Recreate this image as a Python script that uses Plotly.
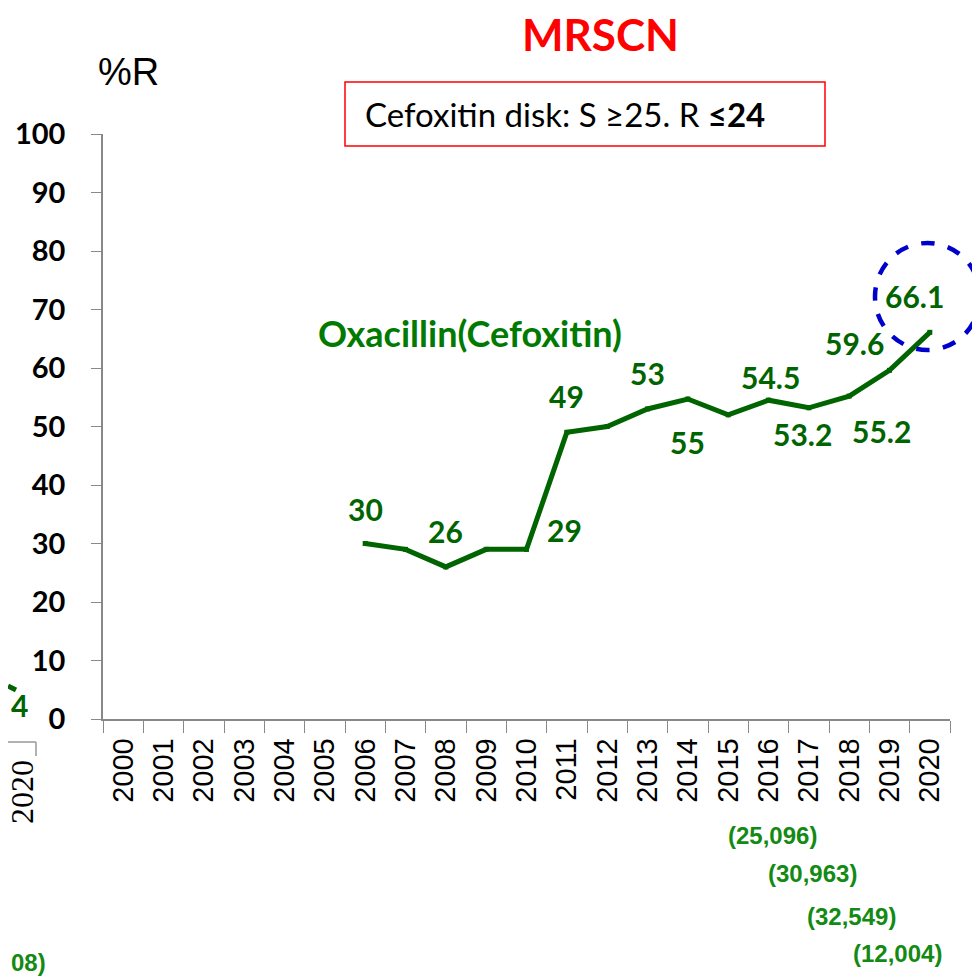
import plotly.graph_objects as go

# Data
years = [str(y) for y in range(2000, 2021)]
oxa_years = [str(y) for y in range(2006, 2021)]
oxa_values = [30, 29, 26, 29, 29, 49, 50, 53, 54.7, 52, 54.5, 53.2, 55.2, 59.6, 66.1]

# labelled points: (year, text, xshift, yshift)
point_labels = [
    ("2006", "30", 0, 35),
    ("2008", "26", 0, 36),
    ("2010", "29", 38, 19),
    ("2011", "49", 0, 36),
    ("2013", "53", 0, 36),
    ("2014", "55", 0, -43),
    ("2016", "54.5", 2, 23),
    ("2017", "53.2", -6, -26),
    ("2018", "55.2", 32, -35),
    ("2019", "59.6", -35, 27),
    ("2020", "66.1", -15, 36),
]
count_labels = ["(25,096)", "(30,963)", "(32,549)", "(12,004)"]

GREEN = "#006400"
LABEL_FONT = "Lato, Open Sans, sans-serif"
NARROW = "Liberation Sans Narrow, Arial Narrow, Liberation Sans, sans-serif"

# the html page adds an 8px body margin, so the plot sits at 103..950 x 134..719 px
PL, PT, PW, PH = 103, 134, 847, 585


def px(x):
    return (x - PL) / PW


def py(y):
    return (PT + PH - y) / PH


fig = go.Figure()

fig.add_trace(go.Scatter(
    x=oxa_years, y=oxa_values, mode="lines+markers",
    line=dict(color=GREEN, width=5),
    marker=dict(color=GREEN, size=5, symbol="square"),
    showlegend=False, hoverinfo="skip",
))

annotations = []
for yr, txt, dx, dy in point_labels:
    val = oxa_values[oxa_years.index(yr)]
    annotations.append(dict(
        x=years.index(yr), y=val, xref="x", yref="y", text=f"<b>{txt}</b>",
        showarrow=False, xshift=dx, yshift=dy, xanchor="center", yanchor="middle",
        font=dict(family=LABEL_FONT, size=30, color=GREEN),
    ))

# sample-size labels below the axis
count_pos = [(772, 835), (812, 873), (851, 916), (897, 953)]
for txt, (cx, cy) in zip(count_labels, count_pos):
    annotations.append(dict(
        x=px(cx), y=py(cy), xref="paper", yref="paper", xanchor="center", yanchor="middle",
        text=f"<b>{txt}</b>", showarrow=False,
        font=dict(family=NARROW, size=24, color="#138a13"),
    ))

annotations += [
    dict(x=px(600), y=py(34), text="<b>MRSCN</b>",
         font=dict(family=LABEL_FONT, size=44, color="#ff0000")),
    dict(x=px(128), y=py(72), text="%R",
         font=dict(family="Liberation Sans, Arial, sans-serif", size=38, color="black")),
    dict(x=px(363), y=py(114), xanchor="left",
         text="Cefoxitin disk: S ≥25. R <b>≤24</b>",
         font=dict(family=LABEL_FONT, size=33, color="black")),
    dict(x=px(470), y=py(333), text="<b>Oxacillin(Cefoxitin)</b>",
         font=dict(family=LABEL_FONT, size=36, color="#007a00")),
    # fragments of the neighbouring chart on the left edge
    dict(x=px(9), y=py(705), xanchor="left", text="<b>4</b>",
         font=dict(family=LABEL_FONT, size=30, color=GREEN)),
    dict(x=px(22), y=py(792), text="2020", textangle=-90,
         font=dict(family="Liberation Serif, serif", size=32, color="black")),
    dict(x=px(9), y=py(962), xanchor="left", text="<b>08)</b>",
         font=dict(family=NARROW, size=24, color="#138a13")),
]
for a in annotations:
    a.setdefault("xref", "paper")
    a.setdefault("yref", "paper")
    a.setdefault("showarrow", False)
    a.setdefault("xanchor", "center")
    a.setdefault("yanchor", "middle")

shapes = [
    dict(type="rect", xref="paper", yref="paper", x0=px(345), x1=px(825), y0=py(146), y1=py(82),
         line=dict(color="#ff0000", width=1.5), fillcolor="rgba(0,0,0,0)", layer="below"),
    dict(type="circle", xref="paper", yref="paper", x0=px(875), x1=px(980), y0=py(350), y1=py(243),
         line=dict(color="#0000cc", width=4.5, dash="dash")),
    dict(type="line", xref="paper", yref="paper", x0=px(8), x1=px(16), y0=py(686), y1=py(690),
         line=dict(color=GREEN, width=5)),
    dict(type="line", xref="paper", yref="paper", x0=px(8), x1=px(36), y0=py(742), y1=py(742),
         line=dict(color="#999999", width=1.5)),
    dict(type="line", xref="paper", yref="paper", x0=px(36), x1=px(36), y0=py(742), y1=py(756),
         line=dict(color="#999999", width=1.5)),
]

fig.update_layout(
    width=980, height=980,
    margin=dict(l=PL - 8, r=980 - (PL - 8) - PW, t=PT - 8, b=980 - (PT - 8) - PH),
    plot_bgcolor="white", paper_bgcolor="white",
    annotations=annotations, shapes=shapes,
    xaxis=dict(
        type="category", categoryorder="array", categoryarray=years,
        range=[-0.5, 20.5], tickvals=years, ticktext=years,
        tickangle=-90, tickfont=dict(family="Liberation Sans, Arial, sans-serif", size=29, color="black"),
        ticks="outside", ticklen=12, tickcolor="#888888", tickson="boundaries",
        ticklabelstandoff=6,
        showline=True, linecolor="#888888", linewidth=1.5, showgrid=False, zeroline=False,
        automargin=False,
    ),
    yaxis=dict(
        range=[0, 100], dtick=10,
        tickfont=dict(family=LABEL_FONT, size=29, color="black", weight="bold"),
        ticks="outside", ticklen=10, tickcolor="#888888", ticklabelstandoff=20,
        showline=True, linecolor="#888888", linewidth=1.5, showgrid=False, zeroline=False,
        automargin=False,
    ),
)

fig.write_html("out.html")
